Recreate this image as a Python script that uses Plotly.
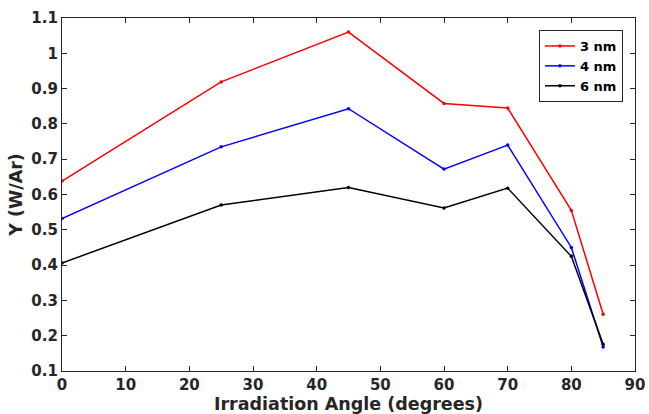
import plotly.graph_objects as go

angles = [0, 25, 45, 60, 70, 80, 85]
y_3nm = [0.638, 0.919, 1.060, 0.858, 0.845, 0.555, 0.261]
y_4nm = [0.532, 0.735, 0.843, 0.672, 0.740, 0.450, 0.168]
y_6nm = [0.406, 0.570, 0.620, 0.562, 0.618, 0.425, 0.176]
names = ["3 nm", "4 nm", "6 nm"]
colors = ["#ff0000", "#0000ff", "#000000"]
x_ticks = list(range(0, 91, 10))
y_ticks = [0.1, 0.2, 0.3, 0.4, 0.5, 0.6, 0.7, 0.8, 0.9, 1.0, 1.1]
y_ticklabels = ["0.1", "0.2", "0.3", "0.4", "0.5", "0.6", "0.7", "0.8", "0.9", "1", "1.1"]

fig = go.Figure()
for name, ys, c in zip(names, [y_3nm, y_4nm, y_6nm], colors):
    fig.add_trace(go.Scatter(x=angles, y=ys, name=name, mode="lines+markers",
                             line=dict(color=c, width=1.5),
                             marker=dict(color=c, size=3.5, symbol="circle")))

tick_font = dict(family="DejaVu Sans", size=15, color="#262626", weight="bold")
title_font = dict(family="DejaVu Sans", size=17.5, color="#262626", weight="bold")
axis_common = dict(showgrid=False, zeroline=False, showline=True, mirror="ticks",
                   linecolor="#262626", linewidth=1.2, ticks="inside", ticklen=5,
                   tickcolor="#262626", tickwidth=1, tickfont=tick_font, automargin=False)

fig.update_xaxes(range=[0, 90], tickvals=x_ticks,
                 title=dict(text="Irradiation Angle (degrees)", standoff=2, font=title_font),
                 **axis_common)
fig.update_yaxes(range=[0.1, 1.1], tickvals=y_ticks, ticktext=y_ticklabels,
                 title=dict(text="Y (W/Ar)", standoff=4, font=title_font),
                 **axis_common)

fig.update_layout(
    width=649, height=414,
    margin=dict(l=62, r=14, t=18, b=43),
    paper_bgcolor="white", plot_bgcolor="white",
    font=dict(family="DejaVu Sans", color="#262626"),
    legend=dict(x=0.979, y=0.966, xanchor="right", yanchor="top",
                bgcolor="white", bordercolor="#262626", borderwidth=1,
                font=dict(family="DejaVu Sans", size=13, color="#000000", weight="bold"),
                itemwidth=30, tracegroupgap=0),
    showlegend=True,
)

fig.write_html("out.html")
